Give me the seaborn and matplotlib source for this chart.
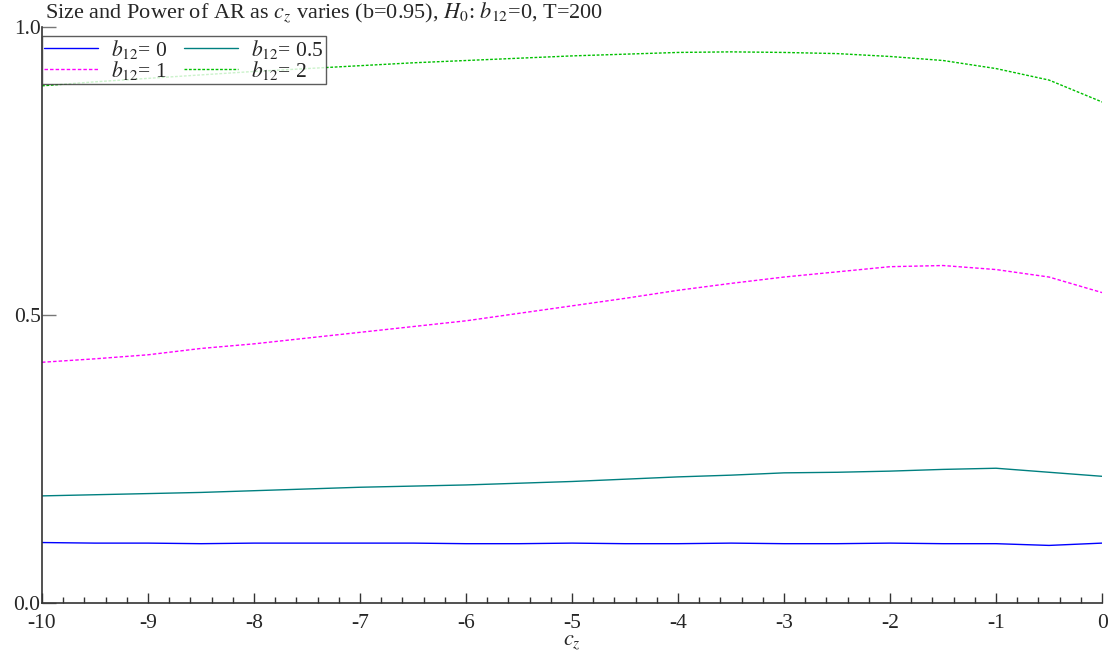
import numpy as np
import pandas as pd
import matplotlib
matplotlib.use("Agg")
import matplotlib.pyplot as plt
import seaborn as sns
from matplotlib.ticker import MultipleLocator, FixedLocator

cz = [-10, -9.5, -9, -8.5, -8, -7.5, -7, -6.5, -6, -5.5, -5,
      -4.5, -4, -3.5, -3, -2.5, -2, -1.5, -1, -0.5, 0]

b12_0 = [0.105, 0.104, 0.104, 0.103, 0.104, 0.104, 0.104, 0.104, 0.103, 0.103, 0.104,
         0.103, 0.103, 0.104, 0.103, 0.103, 0.104, 0.103, 0.103, 0.100, 0.104]
b12_05 = [0.186, 0.188, 0.190, 0.192, 0.195, 0.198, 0.201, 0.203, 0.205, 0.208, 0.211,
          0.215, 0.219, 0.222, 0.226, 0.227, 0.229, 0.232, 0.234, 0.227, 0.220]
b12_1 = [0.418, 0.424, 0.431, 0.442, 0.450, 0.460, 0.470, 0.480, 0.490, 0.503, 0.516,
         0.529, 0.543, 0.555, 0.566, 0.575, 0.584, 0.586, 0.579, 0.566, 0.539]
b12_2 = [0.898, 0.905, 0.911, 0.917, 0.923, 0.928, 0.933, 0.938, 0.942, 0.946, 0.950,
         0.953, 0.956, 0.957, 0.956, 0.954, 0.949, 0.942, 0.928, 0.908, 0.870]

labels = ["$b_{12}$= 0", "$b_{12}$= 0.5", "$b_{12}$= 1", "$b_{12}$= 2"]
colors = ["#0000ff", "#008080", "#ff00ff", "#00c000"]
styles = ["-", "-", (0, (2.5, 1.5)), (0, (2, 1.2))]
series = [b12_0, b12_05, b12_1, b12_2]

sns.set_theme(style="ticks")
plt.rcParams["font.family"] = ["Liberation Serif", "DejaVu Serif"]
plt.rcParams["mathtext.fontset"] = "stix"

fig = plt.figure(figsize=(11.14, 6.5), dpi=100)
ax = fig.add_axes([0.0377, 0.0723, 0.9516, 0.886])

for vals, lab, col, ls in zip(series, labels, colors, styles):
    df = pd.DataFrame({"cz": cz, "val": vals})
    sns.lineplot(data=df, x="cz", y="val", ax=ax, color=col, label=lab,
                 linewidth=1.0, linestyle=ls)

ax.set_xlim(-10, 0)
ax.set_ylim(0, 1.0)
ax.xaxis.set_major_locator(MultipleLocator(1))
ax.xaxis.set_minor_locator(MultipleLocator(0.2))
ax.yaxis.set_major_locator(FixedLocator([0.0, 0.5, 1.0]))
ax.set_yticklabels(["0.0", "0.5", "1.0"])
ax.set_xticklabels([f"{int(v)}" for v in ax.get_xticks()])
ax.tick_params(axis="x", which="major", direction="in", length=7, width=1,
               labelsize=15.5, pad=8, color="#333333")
ax.tick_params(axis="x", which="minor", direction="in", length=4, width=1,
               color="#333333")
ax.tick_params(axis="y", which="major", direction="in", length=10, width=1,
               labelsize=15.5, pad=1, color="#777777")
for s in ["top", "right"]:
    ax.spines[s].set_visible(False)
for s in ["left", "bottom"]:
    ax.spines[s].set_color("#333333")
    ax.spines[s].set_linewidth(1.2)

ax.set_xlabel("$c_z$", fontsize=16, labelpad=0)
ax.set_ylabel("")
ax.text(0.003, 1.004, "Size and Power of AR as $c_z$ varies (b=0.95), $H_0$: $b_{12}$=0, T=200",
        transform=ax.transAxes, fontsize=16, ha="left", va="bottom")

handles, labs = ax.get_legend_handles_labels()
order = [0, 2, 1, 3]
leg = ax.legend([handles[i] for i in order], [labs[i] for i in order],
                loc="upper left", bbox_to_anchor=(0.0, 0.985), ncol=2,
                frameon=True, fancybox=False, fontsize=15.5, handlelength=2.5,
                handletextpad=0.6, columnspacing=0.8, borderpad=0.1,
                labelspacing=-0.1, borderaxespad=0.0)
leg.get_frame().set_edgecolor("#333333")
leg.get_frame().set_linewidth(1.0)

fig.savefig("out.png", dpi=100)
